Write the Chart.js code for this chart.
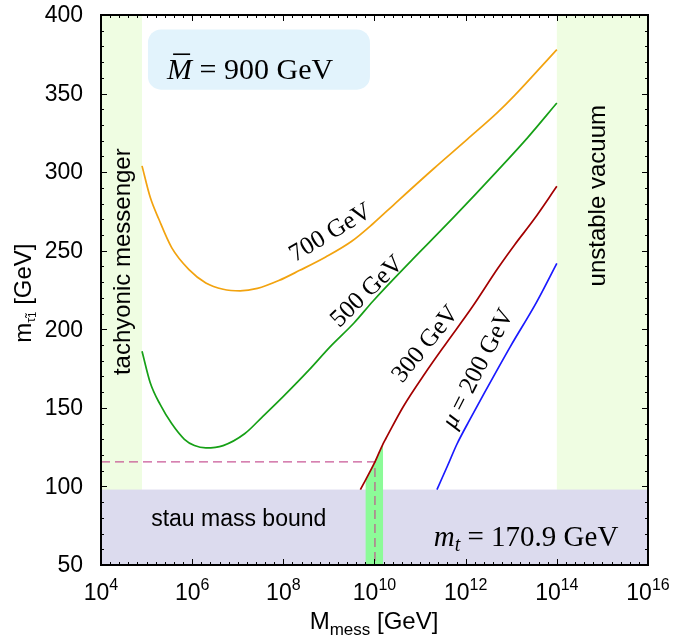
<!DOCTYPE html>
<html>
<head>
<meta charset="utf-8">
<script src="https://cdn.jsdelivr.net/npm/chart.js@4.4.1/dist/chart.umd.min.js"></script>
<style>
  html, body { margin: 0; padding: 0; background: #fff; }
  #wrap { width: 674px; height: 639px; }
</style>
</head>
<body>
<div id="wrap"><canvas id="chart"></canvas></div>
<script>
// x = log10(M_mess / GeV), y = stau mass in GeV
const xMin = 4, xMax = 16, yMin = 50, yMax = 400;
const xTicks = [4, 6, 8, 10, 12, 14, 16];
const yTicks = [50, 100, 150, 200, 250, 300, 350, 400];

const mu700X = [4.9, 5.08, 5.27, 5.55, 5.93, 6.30, 6.68, 7.05, 7.43, 7.90, 8.36, 8.93, 9.50, 9.96, 10.45, 11.29, 12.04, 12.70, 13.08, 14.0];
const mu700Y = [304, 284, 270, 252, 238, 229.5, 225.5, 224.5, 226, 231, 237.5, 246, 256, 267, 280, 302, 321, 338, 349, 378];

const mu500X = [4.9, 5.08, 5.3, 5.55, 5.83, 6.05, 6.30, 6.68, 7.15, 7.53, 7.99, 8.56, 9.03, 9.55, 9.97, 10.82, 11.19, 11.76, 12.70, 13.36, 14.0];
const mu500Y = [186, 166, 152, 140, 130, 126, 124.5, 126, 133.5, 144, 157, 174, 189, 204, 218, 244, 255, 272, 301, 322, 344];

const mu300X = [9.69, 10.01, 10.19, 10.25, 10.63, 11.11, 11.57, 12.14, 12.71, 13.08, 13.50, 14.0];
const mu300Y = [98, 115.6, 127.3, 130.5, 150.7, 172, 191, 214, 239, 254, 270, 291];

const mu200X = [11.37, 11.6, 11.81, 12.1, 12.42, 12.98, 13.55, 14.0];
const mu200Y = [98, 113, 127, 143, 160, 189, 217, 242];

// excluded / marked regions
const tachyonicEdge = 4.9;
const vacuumEdge = 14.0;
const stauBound = 98;
const bandX = [9.80, 10.01, 10.19];
const bandY = [104, 115.6, 127.3];
const markX = 10.01, markY = 115.6;

const toPoints = (xs, ys) => xs.map((x, i) => ({ x: x, y: ys[i] }));

const SANS = '"Liberation Sans", Arial, sans-serif';
const SERIF = '"Liberation Serif", "Times New Roman", serif';

// draw a run of text pieces (for sub/superscripts)
function drawRuns(ctx, runs, x, y, align) {
    let total = 0;
    runs.forEach(r => { ctx.font = r.font; r.w = ctx.measureText(r.text).width; total += r.w; });
    let cx = align === 'center' ? x - total / 2 : (align === 'right' ? x - total : x);
    ctx.textAlign = 'left';
    runs.forEach(r => {
        ctx.font = r.font;
        ctx.fillText(r.text, cx, y + (r.dy || 0));
        cx += r.w;
    });
}

const decorPlugin = {
    id: 'decor',
    beforeDatasetsDraw(chart) {
        const ctx = chart.ctx;
        const xs = chart.scales.x, ys = chart.scales.y;
        const a = chart.chartArea;
        ctx.save();
        // light green side bands
        ctx.fillStyle = '#effde2';
        ctx.fillRect(a.left, a.top, xs.getPixelForValue(tachyonicEdge) - a.left, a.bottom - a.top);
        ctx.fillRect(xs.getPixelForValue(vacuumEdge), a.top, a.right - xs.getPixelForValue(vacuumEdge), a.bottom - a.top);
        // stau mass bound
        ctx.fillStyle = '#dcdbee';
        const yb = ys.getPixelForValue(stauBound);
        ctx.fillRect(a.left, yb, a.right - a.left, a.bottom - yb);
        // M bar box
        const bx0 = xs.getPixelForValue(5.03), bx1 = xs.getPixelForValue(9.9);
        const by0 = ys.getPixelForValue(390.8), by1 = ys.getPixelForValue(352.5);
        ctx.fillStyle = '#e2f3fc';
        ctx.beginPath();
        ctx.roundRect(bx0, by0, bx1 - bx0, by1 - by0, 13);
        ctx.fill();
        ctx.restore();
    },
    afterDatasetsDraw(chart) {
        const ctx = chart.ctx;
        const xs = chart.scales.x, ys = chart.scales.y;
        const a = chart.chartArea;
        ctx.save();
        ctx.fillStyle = '#000';
        ctx.textBaseline = 'alphabetic';

        // curve labels
        const curveLabels = [
            { runs: [{ text: '700 GeV' }], x: 9.02, y: 262, rot: -31 },
            { runs: [{ text: '500 GeV' }], x: 9.82, y: 224.5, rot: -44 },
            { runs: [{ text: '300 GeV' }], x: 11.1, y: 191, rot: -51 },
            { runs: [{ text: 'μ', italic: true }, { text: ' = 200 GeV' }], x: 12.25, y: 175.3, rot: -63 }
        ];
        curveLabels.forEach(l => {
            ctx.save();
            ctx.translate(xs.getPixelForValue(l.x), ys.getPixelForValue(l.y));
            ctx.rotate(l.rot * Math.PI / 180);
            drawRuns(ctx, l.runs.map(r => ({ text: r.text, font: (r.italic ? 'italic ' : '') + '25px ' + SERIF })), 0, 8, 'center');
            ctx.restore();
        });

        // box label
        const bxText = xs.getPixelForValue(5.45), byText = ys.getPixelForValue(359);
        drawRuns(ctx, [
            { text: 'M', font: 'italic 30px ' + SERIF },
            { text: ' = 900 GeV', font: '30px ' + SERIF }
        ], bxText, byText, 'left');
        ctx.fillRect(bxText + 6, byText - 26, 17, 1.6);

        // m_t label
        const mtX = xs.getPixelForValue(11.3), mtY = ys.getPixelForValue(62);
        drawRuns(ctx, [
            { text: 'm', font: 'italic 29px ' + SERIF },
            { text: 't', font: 'italic 20px ' + SERIF, dy: 5 },
            { text: ' = 170.9 GeV', font: '29px ' + SERIF }
        ], mtX, mtY, 'left');

        // stau mass bound
        ctx.font = '23px ' + SANS;
        ctx.textAlign = 'left';
        ctx.fillText('stau mass bound', xs.getPixelForValue(5.1), ys.getPixelForValue(75));

        // rotated band labels
        ctx.save();
        ctx.translate(xs.getPixelForValue(4.45) + 8, ys.getPixelForValue(243));
        ctx.rotate(-Math.PI / 2);
        ctx.font = '24px ' + SANS;
        ctx.textAlign = 'center';
        ctx.fillText('tachyonic messenger', 0, 0);
        ctx.restore();
        ctx.save();
        ctx.translate(xs.getPixelForValue(15.0) + 3, ys.getPixelForValue(285));
        ctx.rotate(-Math.PI / 2);
        ctx.font = '24px ' + SANS;
        ctx.textAlign = 'center';
        ctx.fillText('unstable vacuum', 0, 0);
        ctx.restore();

        // frame
        ctx.strokeStyle = '#000';
        ctx.lineWidth = 2;
        ctx.strokeRect(a.left, a.top, a.right - a.left, a.bottom - a.top);

        // inward tick marks on all four sides
        ctx.lineWidth = 1;
        ctx.beginPath();
        for (let v = xMin; v <= xMax + 1e-9; v += 0.2) {
            const px = Math.round(xs.getPixelForValue(v)) + 0.5;
            const major = Math.abs(v / 2 - Math.round(v / 2)) < 1e-6;
            const len = major ? 6 : 3;
            ctx.moveTo(px, a.bottom); ctx.lineTo(px, a.bottom - len);
            ctx.moveTo(px, a.top); ctx.lineTo(px, a.top + len);
        }
        for (let v = yMin; v <= yMax; v += 10) {
            const py = Math.round(ys.getPixelForValue(v)) + 0.5;
            const len = v % 50 === 0 ? 6 : 3;
            ctx.moveTo(a.left, py); ctx.lineTo(a.left + len, py);
            ctx.moveTo(a.right, py); ctx.lineTo(a.right - len, py);
        }
        ctx.stroke();

        // tick labels
        ctx.font = '23px ' + SANS;
        ctx.textAlign = 'right';
        ctx.textBaseline = 'middle';
        yTicks.forEach(v => ctx.fillText(String(v), a.left - 18, ys.getPixelForValue(v) + 1));
        ctx.textBaseline = 'alphabetic';
        xTicks.forEach(v => {
            drawRuns(ctx, [
                { text: '10', font: '23px ' + SANS },
                { text: String(v), font: '16px ' + SANS, dy: -10 }
            ], xs.getPixelForValue(v), a.bottom + 35, 'center');
        });

        // axis titles
        drawRuns(ctx, [
            { text: 'M', font: '24px ' + SANS },
            { text: 'mess', font: '17px ' + SANS, dy: 6 },
            { text: ' [GeV]', font: '24px ' + SANS }
        ], 374, 629, 'center');
        ctx.save();
        ctx.translate(31, ys.getPixelForValue(223));
        ctx.rotate(-Math.PI / 2);
        drawRuns(ctx, [
            { text: 'm', font: '24px ' + SANS },
            { text: 'τ̃', font: '13px ' + SANS, dy: 4 },
            { text: '1', font: '11px ' + SANS, dy: 5 },
            { text: ' [GeV]', font: '24px ' + SANS }
        ], 0, 0, 'center');
        ctx.restore();

        ctx.restore();
    }
};

const lineSet = (xs, ys, color) => ({
    data: toPoints(xs, ys),
    borderColor: color,
    borderWidth: 1.7,
    pointRadius: 0,
    showLine: true,
    cubicInterpolationMode: 'monotone',
    fill: false
});

new Chart(document.getElementById('chart'), {
    type: 'scatter',
    data: {
        datasets: [
            lineSet(mu700X, mu700Y, '#f2a30f'),
            lineSet(mu500X, mu500Y, '#16a016'),
            lineSet(mu300X, mu300Y, '#a30000'),
            lineSet(mu200X, mu200Y, '#1a1aff'),
            {
                data: [{ x: xMin, y: markY }, { x: markX, y: markY }, { x: markX, y: yMin }],
                borderColor: 'rgba(195, 70, 140, 0.9)',
                borderWidth: 1.2,
                borderDash: [9, 5],
                pointRadius: 0,
                showLine: true,
                tension: 0,
                fill: false
            },
            {
                data: toPoints(bandX, bandY),
                borderWidth: 0,
                borderColor: 'rgba(0,0,0,0)',
                backgroundColor: '#8cfb98',
                pointRadius: 0,
                showLine: true,
                tension: 0,
                fill: { value: yMin }
            }
        ]
    },
    options: {
        responsive: true,
        maintainAspectRatio: false,
        animation: false,
        layout: { padding: { left: 101, top: 15, right: 26, bottom: 74 } },
        plugins: { legend: { display: false }, tooltip: { enabled: false } },
        scales: {
            x: { type: 'linear', display: false, min: xMin, max: xMax },
            y: { type: 'linear', display: false, min: yMin, max: yMax }
        }
    },
    plugins: [decorPlugin]
});
</script>
</body>
</html>
